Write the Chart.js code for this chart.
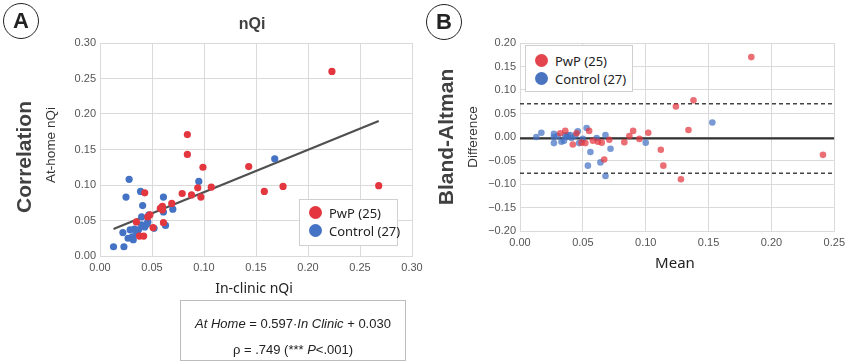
<!DOCTYPE html>
<html>
<head>
<meta charset="utf-8">
<script src="https://cdn.jsdelivr.net/npm/chart.js@4"></script>
<style>
  html, body { margin:0; padding:0; background:#fff; }
  body { width:850px; height:363px; position:relative; overflow:hidden; font-family:"Liberation Sans", Arial, sans-serif; color:#333; }
  canvas { position:absolute; }
  .abs { position:absolute; white-space:nowrap; }
  .ctr { transform:translate(-50%,-50%); }
  .rot { transform:translate(-50%,-50%) rotate(-90deg); }
  .circ { position:absolute; width:34px; height:34px; border:1.5px solid #222; border-radius:50%; font:bold 22px "Liberation Sans", Arial, sans-serif; color:#222; text-align:center; line-height:34px; }
  .leg { position:absolute; background:#fff; border:1px solid #cfcfcf; box-sizing:border-box; font:13px "Noto Sans", "Open Sans", sans-serif; color:#222; }
  .dot { position:absolute; width:13px; height:13px; border-radius:50%; }
  .lt { position:absolute; line-height:16px; white-space:nowrap; }
</style>
</head>
<body>
<canvas id="c1" width="430" height="290" style="left:0;top:0;width:430px;height:290px"></canvas>
<canvas id="c2" width="420" height="300" style="left:430px;top:0;width:420px;height:300px"></canvas>

<div class="circ" style="left:3px;top:3px">A</div>
<div class="circ" style="left:426px;top:4px">B</div>

<div class="abs ctr" style="left:252px;top:24px;font:bold 16px 'Liberation Sans',Arial,sans-serif;color:#404040">nQi</div>
<div class="abs rot" style="left:24px;top:157px;font:bold 21px 'Liberation Sans',Arial,sans-serif;color:#404040">Correlation</div>
<div class="abs rot" style="left:50px;top:145px;font:13.5px 'Liberation Sans',Arial,sans-serif;color:#333">At-home nQi</div>
<div class="abs ctr" style="left:254px;top:287px;font:14px 'Noto Sans','Open Sans',sans-serif;color:#222">In-clinic nQi</div>

<div class="abs rot" style="left:446px;top:137px;font:bold 21px 'Liberation Sans',Arial,sans-serif;color:#404040">Bland-Altman</div>
<div class="abs rot" style="left:472px;top:137px;font:13.5px 'Liberation Sans',Arial,sans-serif;color:#333">Difference</div>
<div class="abs ctr" style="left:675px;top:262px;font:15px 'Noto Sans','Open Sans',sans-serif;color:#222">Mean</div>

<div class="abs" style="left:180px;top:300px;width:226px;height:61px;border:1px solid #bdbdbd;box-sizing:border-box"></div>
<div class="abs ctr" style="left:293px;top:323px;font:13px 'Liberation Sans',Arial,sans-serif;color:#222"><i>At Home</i> = 0.597·<i>In Clinic</i> + 0.030</div>
<div class="abs ctr" style="left:293px;top:349px;font:13px 'Liberation Sans',Arial,sans-serif;color:#222">ρ = .749 (*** <i>P</i>&lt;.001)</div>

<div class="leg" style="left:299px;top:199px;width:99px;height:47px">
  <div class="dot" style="left:9px;top:6px;background:#e3363f"></div>
  <div class="lt" style="left:29px;top:5px">PwP (25)</div>
  <div class="dot" style="left:9px;top:24px;background:#4472c4"></div>
  <div class="lt" style="left:29px;top:23px">Control (27)</div>
</div>
<div class="leg" style="left:525px;top:45px;width:108px;height:47px">
  <div class="dot" style="left:9px;top:8px;background:#e3444d"></div>
  <div class="lt" style="left:29px;top:7px">PwP (25)</div>
  <div class="dot" style="left:9px;top:26px;background:#4a74c0"></div>
  <div class="lt" style="left:29px;top:25px">Control (27)</div>
</div>

<script>
// ---------- Data: panel A (correlation) ----------
const pwpClinic = [0.084,0.084,0.099,0.143,0.158,0.176,0.223,0.268,0.107,0.094,0.097,0.088,0.079,0.069,0.060,0.058,0.048,0.046,0.043,0.035,0.061,0.051,0.038,0.042,0.060];
const pwpHome   = [0.171,0.143,0.125,0.126,0.091,0.098,0.260,0.099,0.097,0.096,0.083,0.086,0.088,0.074,0.070,0.067,0.058,0.055,0.089,0.048,0.047,0.040,0.028,0.028,0.065];
const ctlClinic = [0.168,0.095,0.028,0.025,0.039,0.041,0.061,0.070,0.061,0.040,0.047,0.063,0.052,0.022,0.029,0.033,0.037,0.027,0.031,0.032,0.013,0.023,0.043,0.045,0.046,0.035,0.040];
const ctlHome   = [0.137,0.105,0.108,0.083,0.091,0.071,0.083,0.066,0.062,0.055,0.058,0.043,0.039,0.033,0.037,0.038,0.037,0.025,0.027,0.023,0.013,0.013,0.041,0.045,0.048,0.031,0.044];
const fitX = [0.013, 0.268];
const fitY = [0.038, 0.190];
const ticksA = [0.00,0.05,0.10,0.15,0.20,0.25,0.30];

// ---------- Data: panel B (Bland-Altman) ----------
const pwpMean = [0.184,0.138,0.124,0.134,0.241,0.128,0.114,0.112,0.102,0.095,0.090,0.087,0.083,0.071,0.067,0.065,0.062,0.055,0.052,0.049,0.045,0.042,0.036,0.032,0.058];
const pwpDiff = [0.170,0.078,0.065,0.015,-0.038,-0.090,-0.061,-0.027,0.009,-0.004,0.013,0.002,-0.011,-0.006,-0.048,-0.012,-0.010,0.013,-0.013,-0.012,0.008,-0.016,0.013,0.008,-0.008];
const ctlMean = [0.153,0.100,0.072,0.068,0.068,0.064,0.054,0.056,0.061,0.053,0.047,0.046,0.040,0.038,0.037,0.035,0.033,0.027,0.027,0.027,0.017,0.013,0.041,0.044,0.050,0.030,0.036];
const ctlDiff = [0.031,-0.012,-0.025,0.004,-0.083,-0.054,-0.061,-0.032,-0.002,0.019,-0.013,0.012,0.004,0.004,0.000,-0.008,-0.010,0.007,0.000,-0.013,0.009,0.000,-0.002,0.003,-0.004,0.002,0.003];
const meanDiff = -0.003;
const upperLoA = 0.071;
const lowerLoA = -0.077;
const ticksBx = [0.00,0.05,0.10,0.15,0.20,0.25];
const ticksBy = [-0.20,-0.15,-0.10,-0.05,0.00,0.05,0.10,0.15,0.20];

const pts = (xs, ys) => xs.map((x, i) => ({x, y: ys[i]}));
const GRID = '#dadada';
const TICKFONT = {family: "'Liberation Sans', Arial, sans-serif", size: 11};
const TICKCOLOR = '#555';
const fmt = v => { const s = Math.abs(v).toFixed(2); return (v < -1e-9 ? '\u2212' : '') + s; };

function axis(min, max, step, list, fixed, isX) {
  return {
    type: 'linear', min, max,
    afterBuildTicks: s => { s.ticks = list.map(v => ({value: v})); },
    ticks: {stepSize: step, font: TICKFONT, color: TICKCOLOR, padding: isX ? 5 : 4, callback: v => fmt(v), maxRotation: 0, autoSkip: false},
    grid: {color: GRID, drawTicks: false, lineWidth: 1},
    border: {color: GRID, width: 1},
    afterFit: s => { if (isX) s.height = fixed; else s.width = fixed; }
  };
}

Chart.defaults.animation = false;

new Chart(document.getElementById('c1'), {
  type: 'scatter',
  data: {
    datasets: [
      {label: 'PwP (25)', data: pts(pwpClinic, pwpHome), backgroundColor: '#e3363f', borderWidth: 0, pointRadius: 3.6},
      {label: 'Control (27)', data: pts(ctlClinic, ctlHome), backgroundColor: '#4472c4', borderWidth: 0, pointRadius: 3.6},
      {type: 'line', label: 'fit', data: pts(fitX, fitY), borderColor: '#505050', borderWidth: 2.2, pointRadius: 0, fill: false}
    ]
  },
  options: {
    responsive: false,
    layout: {padding: {left: 60, top: 43, right: 18, bottom: 14}},
    plugins: {legend: {display: false}, tooltip: {enabled: false}},
    scales: {
      x: axis(0, 0.30, 0.05, ticksA, 20, true),
      y: axis(0, 0.30, 0.05, ticksA, 40, false)
    }
  }
});

new Chart(document.getElementById('c2'), {
  type: 'scatter',
  data: {
    datasets: [
      {label: 'PwP (25)', data: pts(pwpMean, pwpDiff), backgroundColor: 'rgba(227,54,63,0.72)', borderWidth: 0, pointRadius: 3.3},
      {label: 'Control (27)', data: pts(ctlMean, ctlDiff), backgroundColor: 'rgba(68,114,196,0.72)', borderWidth: 0, pointRadius: 3.3},
      {type: 'line', label: 'mean', data: pts([0, 0.25], [meanDiff, meanDiff]), borderColor: '#333', borderWidth: 2.2, pointRadius: 0},
      {type: 'line', label: 'upper', data: pts([0, 0.25], [upperLoA, upperLoA]), borderColor: '#444', borderWidth: 1.5, borderDash: [4, 3], pointRadius: 0},
      {type: 'line', label: 'lower', data: pts([0, 0.25], [lowerLoA, lowerLoA]), borderColor: '#444', borderWidth: 1.5, borderDash: [4, 3], pointRadius: 0}
    ]
  },
  options: {
    responsive: false,
    layout: {padding: {left: 50, top: 43, right: 15, bottom: 49}},
    plugins: {legend: {display: false}, tooltip: {enabled: false}},
    scales: {
      x: axis(0, 0.25, 0.05, ticksBx, 20, true),
      y: axis(-0.20, 0.20, 0.05, ticksBy, 40, false)
    }
  }
});
</script>
</body>
</html>
